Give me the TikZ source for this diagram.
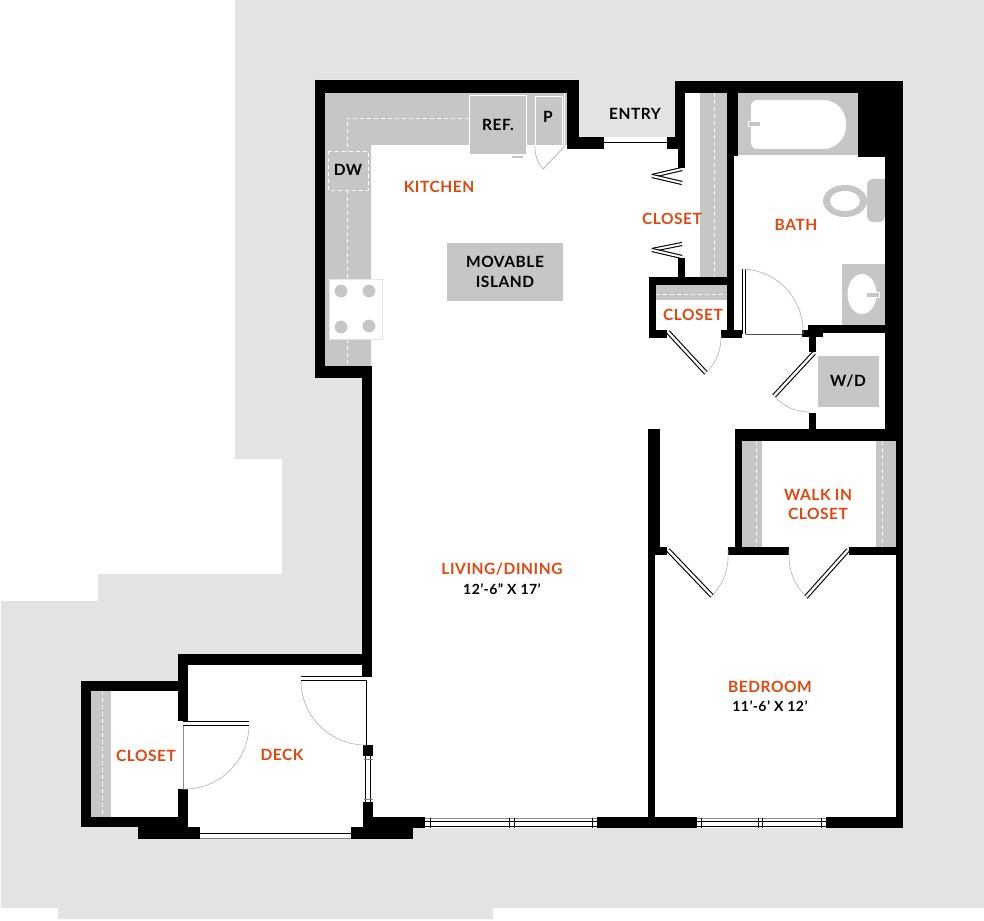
\documentclass[tikz,border=0pt]{standalone}
\usepackage{fontspec}
\newfontfamily\planfont{Lato}[LetterSpace=3.5]
\usepackage{tikz}
\definecolor{sitegray}{HTML}{E3E3E3}
\definecolor{fixgray}{HTML}{C6C6C6}
\definecolor{roomorange}{HTML}{E0480F}
\tikzset{
  wall/.style={fill=black},
  fixture/.style={fill=fixgray},
  shelfline/.style={draw=white, line width=0.8, dash pattern=on 4pt off 3pt},
  doorleaf/.style={draw=black, line width=1.1, double=white, double distance=2.4},
  swing/.style={draw=black!27, line width=0.7},
  pane/.style={draw=black, line width=0.8},
  roomlabel/.style={text=roomorange, font=\planfont\bfseries\fontsize{15.5}{16}\selectfont, inner sep=0pt},
  itemlabel/.style={text=black, font=\planfont\bfseries\fontsize{15.5}{16}\selectfont, inner sep=0pt},
  dimlabel/.style={text=black, font=\planfont\bfseries\fontsize{14}{16}\selectfont, inner sep=0pt}
}
\begin{document}
\begin{tikzpicture}[x=1pt, y=-1pt]
  \useasboundingbox (0,0) rectangle (984,920);
  % site and unit outline
  \fill[sitegray] (235,0) -- (984,0) -- (984,908) -- (493,908) -- (493,919) -- (58,919) -- (58,908) -- (1,908)
    -- (1,601) -- (98,601) -- (98,574) -- (282,574) -- (282,459) -- (235,459) -- cycle;
  \fill[white] (315,80) -- (579,80) -- (579,137) -- (675,137) -- (675,81) -- (903,81) -- (903,828) -- (413,828)
    -- (413,839) -- (138,839) -- (138,827) -- (81,827) -- (81,681) -- (178,681) -- (178,654) -- (362,654)
    -- (362,378) -- (315,378) -- cycle;

  % kitchen counter
  \fill[fixture] (325,93) -- (567,93) -- (567,145) -- (371,145) -- (371,366) -- (325,366) -- cycle;
  \draw[shelfline] (469,118) -- (347,118) -- (347,151);
  \draw[shelfline] (347,190) -- (347,279);
  \draw[shelfline] (347,339) -- (347,366);
  \draw[shelfline, fixture] (328,151) rectangle (368,190);
  \draw[draw=white, fixture, line width=0.9] (469,95) rectangle (526,154);
  \draw[draw=white, line width=0.8] (535,146) -- (535,96) -- (562,96) -- (562,146);
  \draw[draw=white, line width=0.8] (564,93) -- (564,146);
  \fill[fixture] (512,156) rectangle (523,158.5);
  \draw[draw=fixgray, line width=1.2] (543,169) -- (565,146);
  \draw[swing] (535,146) to[bend right=20] (543,169);
  % range
  \draw[fill=white, draw=black!10, line width=0.8] (329,279) rectangle (382,339);
  \foreach \bx/\by in {341/291,369/291,341/327,369/326} {
    \fill[fixgray] (\bx,\by) circle (6.4);
  }
  % island, washer
  \fill[fixture] (447,243) rectangle (563,301);
  \fill[fixture] (818,356) rectangle (879,407);

  % closet shelves
  \fill[fixture] (700,93) rectangle (727,277);
  \draw[shelfline] (714,93) -- (714,277);
  \fill[fixture] (656,285) rectangle (727,300);
  \draw[shelfline] (656,294) -- (727,294);
  \fill[fixture] (742,441) rectangle (762,547);
  \draw[shelfline] (756,441) -- (756,547);
  \fill[fixture] (876,441) rectangle (896,547);
  \draw[shelfline, line width=0.5] (882,441) -- (882,547);
  \fill[fixture] (91,691) rectangle (111,817);
  \draw[shelfline] (102,691) -- (102,817);

  % bath fixtures
  \fill[fixture] (738,93) rectangle (858,155);
  \fill[white] [rounded corners=6pt] (751,149) -- (751,100) [rounded corners=23pt] -- (846,100) -- (846,149)
    [rounded corners=6pt] -- cycle;
  \draw[draw=white, fixture, line width=0.8] (748,121) rectangle (760,126);
  \fill[fixture] [rounded corners=6pt] (885,179) -- (867,179) -- (867,222) -- (885,222) [sharp corners] -- cycle;
  \fill[fixture] (845,201) ellipse [x radius=22, y radius=16];
  \fill[white] (845,201) ellipse [x radius=15, y radius=10];
  \fill[fixture] (842,264) rectangle (885,325);
  \fill[white] (862,294) ellipse [x radius=14.5, y radius=20];
  \draw[draw=white, fixture, line width=0.8] (866,292) rectangle (879,297);

  % walls
  \foreach \xa/\ya/\xb/\yb in {
    315/80/579/93, 315/80/325/378, 315/366/372/378, 362/366/372/677, 567/80/579/149, 567/137/604/149,
    675/81/903/93, 675/81/685/149, 667/137/685/149, 678/149/685/168, 678/258/685/277,
    727/93/738/156, 727/156/734/338, 858/93/903/157, 885/93/903/429, 896/429/903/828,
    649/277/734/285, 649/277/656/338, 649/330/667/338, 721/330/742/338,
    802/330/823/337, 808/325/885/333, 809/333/816/352, 809/413/816/429,
    735/429/903/441, 735/429/742/555, 728/547/789/555, 849/547/896/555,
    648/429/660/547, 648/547/667/555, 648/555/655/817,
    373/817/425/828, 597/817/697/828, 826/817/903/828,
    178/654/372/665, 178/654/188/721, 178/789/188/827, 81/681/178/691, 81/681/91/827, 81/817/188/827,
    138/827/200/839, 351/827/413/839, 363/802/373/827, 363/745/373/756
  } {
    \fill[wall] (\xa,\ya) rectangle (\xb,\yb);
  }

  % windows
  \foreach \xa/\xb in {425/597, 697/826} {
    \draw[pane] (\xa,821.5) -- (\xb,821.5);
    \draw[pane] (\xa,826) -- (\xb,826);
    \draw[draw=black!45, line width=0.7] (\xa,818) -- (\xb,818);
  }
  \foreach \wx in {430,509,514,592,701,758.5,762.5,821} {
    \draw[pane] (\wx,818) -- (\wx,827.5);
  }
  \draw[pane] (200,833) -- (351,833);
  \draw[draw=black!50, line width=1] (200,838.5) -- (351,838.5);
  \draw[pane] (365,756) -- (365,802);
  \draw[pane] (370,756) -- (370,802);
  \draw[draw=black!50, line width=0.6] (364,759) -- (373,759);
  \draw[draw=black!50, line width=0.6] (364,799) -- (373,799);

  % doors
  \foreach \xa/\ya/\xb/\yb in {
    668/332/706/373, 668/550/712/596, 848/550/806/597, 814/353/774/396,
    744/269/744/334
  } {
    \draw[doorleaf] (\xa,\ya) -- (\xb,\yb);
  }
  \foreach \xa/\ya/\xb/\yb in {
    301/678.5/367/678.5, 183/723.5/249/723.5
  } {
    \draw[doorleaf, double distance=3] (\xa,\ya) -- (\xb,\yb);
  }
  \foreach \xa/\ya/\xb/\yb in {
    652/176/682/169, 652/176/682/183, 652/250/682/244, 652/250/682/257
  } {
    \draw[doorleaf, double distance=2] (\xa,\ya) -- (\xb,\yb);
  }
  \draw[pane, line width=1] (604,143) -- (667,143);
  \draw[draw=black!70, line width=0.8] (746,334) -- (803,334);
  \draw[draw=black, line width=0.7] (366.5,681) -- (366.5,745);
  \draw[draw=black!45, line width=0.7] (183,726) -- (183,789);
  \draw[swing] (301,681) to[bend right=45] (366,745);
  \draw[swing] (249,726) to[bend left=45] (183,789);
  \draw[swing] (743,269) to[bend left=45] (803,334);
  \draw[swing] (706,373) to[bend right=22] (721,335);
  \draw[swing] (712,596) to[bend right=22] (728,550);
  \draw[swing] (806,597) to[bend left=22] (789,550);
  \draw[swing] (774,396) to[bend right=22] (809,412);

  % labels
  \node[roomlabel] (kitchen) at (439,187) {KITCHEN};
  \node[roomlabel] (bath) at (796,225) {BATH};
  \node[roomlabel] (hallcloset) at (672,219) {CLOSET};
  \node[roomlabel] (linencloset) at (693,315) {CLOSET};
  \node[roomlabel] (walkin) at (818,495) {WALK IN};
  \node[roomlabel] (walkincloset) at (818,514) {CLOSET};
  \node[roomlabel] (living) at (502,569) {LIVING/DINING};
  \node[roomlabel] (bedroom) at (770,687) {BEDROOM};
  \node[roomlabel] (deckcloset) at (146,756) {CLOSET};
  \node[roomlabel] (deck) at (282,755) {DECK};
  \node[dimlabel] (livingsize) at (502,589) {12’-6” X 17’};
  \node[dimlabel] (bedroomsize) at (770,706) {11’-6’ X 12’};
  \node[itemlabel] (entry) at (635,114) {ENTRY};
  \node[itemlabel] (movable) at (505,262) {MOVABLE};
  \node[itemlabel] (island) at (505,282) {ISLAND};
  \node[itemlabel] (ref) at (498,125) {REF.};
  \node[itemlabel] (pantry) at (548,117) {P};
  \node[itemlabel] (dw) at (348,170) {DW};
  \node[itemlabel] (wd) at (848,381) {W/D};
\end{tikzpicture}
\end{document}
